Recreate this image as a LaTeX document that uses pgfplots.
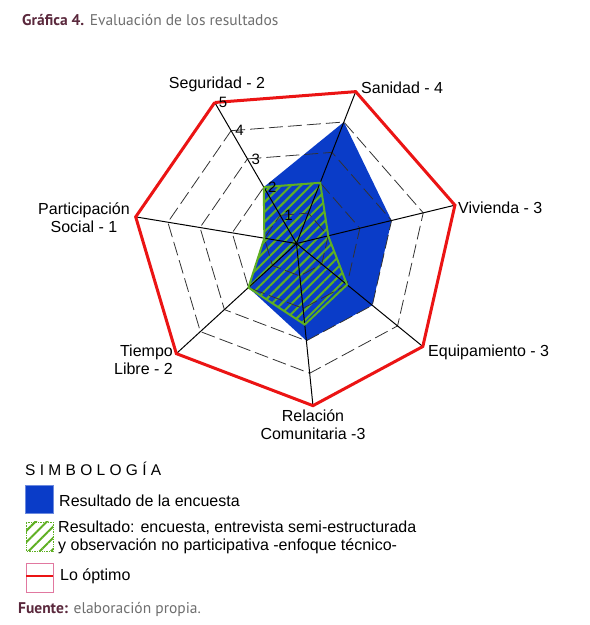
\documentclass[border=0pt]{standalone}
\usepackage{pgfplots}
\pgfplotsset{compat=1.18}
\usepackage{pgfplotstable}
\usepgfplotslibrary{polar}
\usetikzlibrary{patterns.meta}
\usepackage{fontspec}
\setmainfont{Liberation Sans}
\newfontfamily\myriad{PT Sans}
\definecolor{myblue}{RGB}{10,60,200}
\definecolor{mygreen}{RGB}{95,175,35}
\definecolor{myred}{RGB}{235,20,20}
\definecolor{maroon}{RGB}{90,40,60}
\definecolor{tgray}{RGB}{110,110,110}
\definecolor{gridgray}{RGB}{50,50,50}
\definecolor{pinkb}{RGB}{225,120,160}

\pgfplotstableread{
ang enc tec opt
120.1 2 2 5
68.7 4 2 5
13.6 3 1 5
320.8 3 2 5
275.8 3 2.5 5
222.5 2 2 5
170.6 1 1 5
120.1 2 2 5
}\datatable

\begin{document}
\begin{tikzpicture}
\useasboundingbox (0,0) rectangle (590pt,625pt);
\begin{polaraxis}[
  at={(296.5pt,381.5pt)}, anchor=center,
  scale only axis, width=326pt, height=326pt,
  ymin=0, ymax=5, xmin=0, xmax=360,
  hide axis, clip=false,
]
\addplot[draw=none, fill=myblue] table[x=ang,y=enc]{\datatable};
\addplot[draw=none, pattern={Lines[angle=45,distance=7pt,line width=2pt]}, pattern color=mygreen] table[x=ang,y=tec]{\datatable};
\pgfplotsinvokeforeach{1,2,3,4}{
  \addplot[gridgray, line width=0.8pt, dash pattern=on 14pt off 5pt] coordinates {(120.1,#1) (68.7,#1) (13.6,#1) (320.8,#1) (275.8,#1) (222.5,#1) (170.6,#1) (120.1,#1)};
}
\pgfplotsinvokeforeach{120.1,68.7,13.6,320.8,275.8,222.5,170.6}{
  \addplot[black, line width=1pt] coordinates {(#1,0) (#1,5)};
}
\addplot[mygreen, line width=2pt, line join=miter] table[x=ang,y=tec]{\datatable};
\addplot[myred, line width=3pt, line join=miter] table[x=ang,y=opt]{\datatable};
\pgfplotsinvokeforeach{1,2,3,4,5}{
  \node[anchor=west, inner sep=0pt, xshift=4pt, font=\fontsize{15}{17}\selectfont] at (axis cs:120.1,#1) {#1};
}
\end{polaraxis}
% title
\node[anchor=west, inner sep=0pt, font=\myriad\fontsize{15.5}{18}\selectfont] at (22pt,605pt) {\textcolor{maroon}{\textbf{Gráfica 4.}} \textcolor{tgray}{Evaluación de los resultados}};
% category labels
\begin{scope}[every node/.style={inner sep=0pt, font=\fontsize{16}{18}\selectfont}]
\node at (217pt,541pt) {Seguridad - 2};
\node[anchor=west] at (361pt,537pt) {Sanidad - 4};
\node[anchor=west] at (458pt,417pt) {Vivienda - 3};
\node[anchor=west] at (428pt,273pt) {Equipamiento - 3};
\node[align=center, font=\fontsize{16}{18}\selectfont] at (84pt,407pt) {Participación\\Social - 1};
\node[align=right, anchor=east, font=\fontsize{16}{18}\selectfont] at (173pt,265pt) {Tiempo\\Libre - 2};
\node[align=center, font=\fontsize{16}{18}\selectfont] at (313pt,200pt) {Relación\\Comunitaria -3};
% legend
\node[anchor=west, font=\fontsize{15.5}{18}\selectfont] at (25pt,156pt) {S I M B O L O G Í A};
\fill[myblue, draw=myblue!60] (25pt,112pt) rectangle (53pt,140pt);
\node[anchor=west] at (59pt,124pt) {Resultado de la encuesta};
\path[pattern={Lines[angle=45,distance=8pt,line width=2pt]}, pattern color=mygreen] (26pt,74pt) rectangle (53pt,103pt);
\draw[mygreen, densely dotted, line width=0.7pt] (26pt,74pt) rectangle (53pt,103pt);
\node[anchor=west, align=left, font=\fontsize{16}{18}\selectfont] at (58pt,88pt) {Resultado: encuesta, entrevista semi-estructurada\\y observación no participativa -enfoque técnico-};
\draw[pinkb, line width=0.7pt] (26pt,33pt) rectangle (53pt,62pt);
\draw[myred, line width=2.5pt] (26pt,49pt) -- (53pt,49pt);
\node[anchor=west] at (60pt,49pt) {Lo óptimo};
\end{scope}
\node[anchor=west, inner sep=0pt, font=\myriad\fontsize{15.5}{18}\selectfont] at (18pt,16pt) {\textcolor{maroon}{\textbf{Fuente:}} \textcolor{tgray}{elaboración propia.}};
\end{tikzpicture}
\end{document}
